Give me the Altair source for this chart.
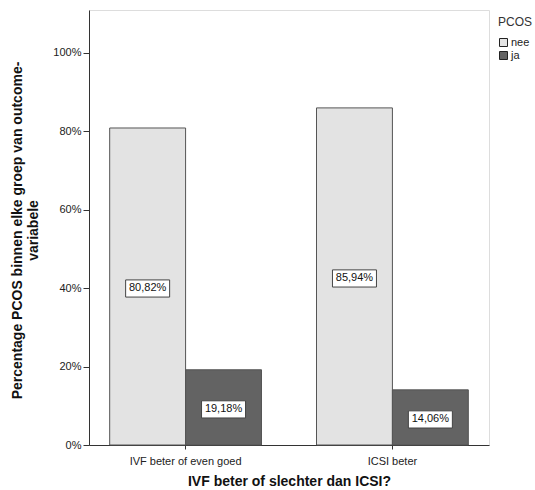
import altair as alt
import pandas as pd

categories = ["IVF beter of even goed", "ICSI beter"]
groups = ["nee", "ja"]
nee_values = [80.82, 85.94]
ja_values = [19.18, 14.06]
colors = ["#e3e3e3", "#636363"]

rows = []
for i, c in enumerate(categories):
    for g, v in (("nee", nee_values[i]), ("ja", ja_values[i])):
        rows.append({"cat": c, "PCOS": g, "val": v, "mid": v / 2,
                     "lab": f"{v:.2f}%".replace(".", ",")})
df = pd.DataFrame(rows)

FONT = "Liberation Sans"

x_enc = alt.X("cat:N", sort=categories,
              scale=alt.Scale(paddingInner=0.266, paddingOuter=0.1),
              axis=alt.Axis(title="IVF beter of slechter dan ICSI?", labelAngle=0,
                            labelFont=FONT, labelFontSize=11, labelColor="#222",
                            titleFont=FONT, titleFontSize=14, titleFontWeight="bold",
                            titleColor="#111", titlePadding=8, tickSize=4,
                            tickColor="#333", domainColor="#333", labelPadding=6))
xo = alt.XOffset("PCOS:N", sort=groups, scale=alt.Scale(paddingInner=0, paddingOuter=0))

base = alt.Chart(df)

bars = base.mark_bar(stroke="#555", strokeWidth=1).encode(
    x=x_enc,
    xOffset=xo,
    y=alt.Y("val:Q", scale=alt.Scale(domain=[0, 110.9], nice=False),
            axis=alt.Axis(title=["Percentage PCOS binnen elke groep van outcome-", "variabele"],
                          values=[0, 20, 40, 60, 80, 100], labelExpr="datum.value + '%'",
                          grid=False, tickSize=6, tickColor="#333", domainColor="#333",
                          labelFont=FONT, labelFontSize=11, labelColor="#222",
                          labelPadding=2,
                          titleFont=FONT, titleFontSize=14, titleFontWeight="bold",
                          titleColor="#111", titleX=-65, titleY=220, titleAngle=-90,
                          titleAlign="center", titleBaseline="bottom")),
    color=alt.Color("PCOS:N", sort=groups,
                    scale=alt.Scale(domain=groups, range=colors),
                    legend=alt.Legend(title="PCOS", orient="none", legendX=409, legendY=7,
                                      symbolType="square", symbolSize=64,
                                      symbolStrokeColor="#222", symbolStrokeWidth=1,
                                      titleFont=FONT, titleFontSize=12, titleFontWeight="normal",
                                      titleColor="#333", labelFont=FONT, labelFontSize=11,
                                      labelColor="#222", rowPadding=0, titlePadding=8,
                                      symbolOffset=0, labelOffset=2)),
)

boxes = base.mark_point(
    shape="M-1,-0.39L1,-0.39L1,0.39L-1,0.39Z", size=1936, filled=True,
    fill="white", stroke="#444", strokeWidth=1, opacity=1,
).encode(x=alt.X("cat:N", sort=categories), xOffset=xo, y=alt.Y("mid:Q"), yOffset=alt.value(2))

texts = base.mark_text(font=FONT, fontSize=11, color="#111", dy=2).encode(
    x=alt.X("cat:N", sort=categories), xOffset=xo, y=alt.Y("mid:Q"), text="lab:N")

chart = alt.layer(bars, boxes, texts).properties(
    width=400, height=435,
    autosize=alt.AutoSizeParams(type="none"),
    padding={"left": 89, "top": 10, "right": 46, "bottom": 45},
).configure_view(fill="#f0f0f0", stroke="#777", strokeWidth=1).configure(background="white")

chart.save("out.html", embed_options={"renderer": "svg", "actions": False})
